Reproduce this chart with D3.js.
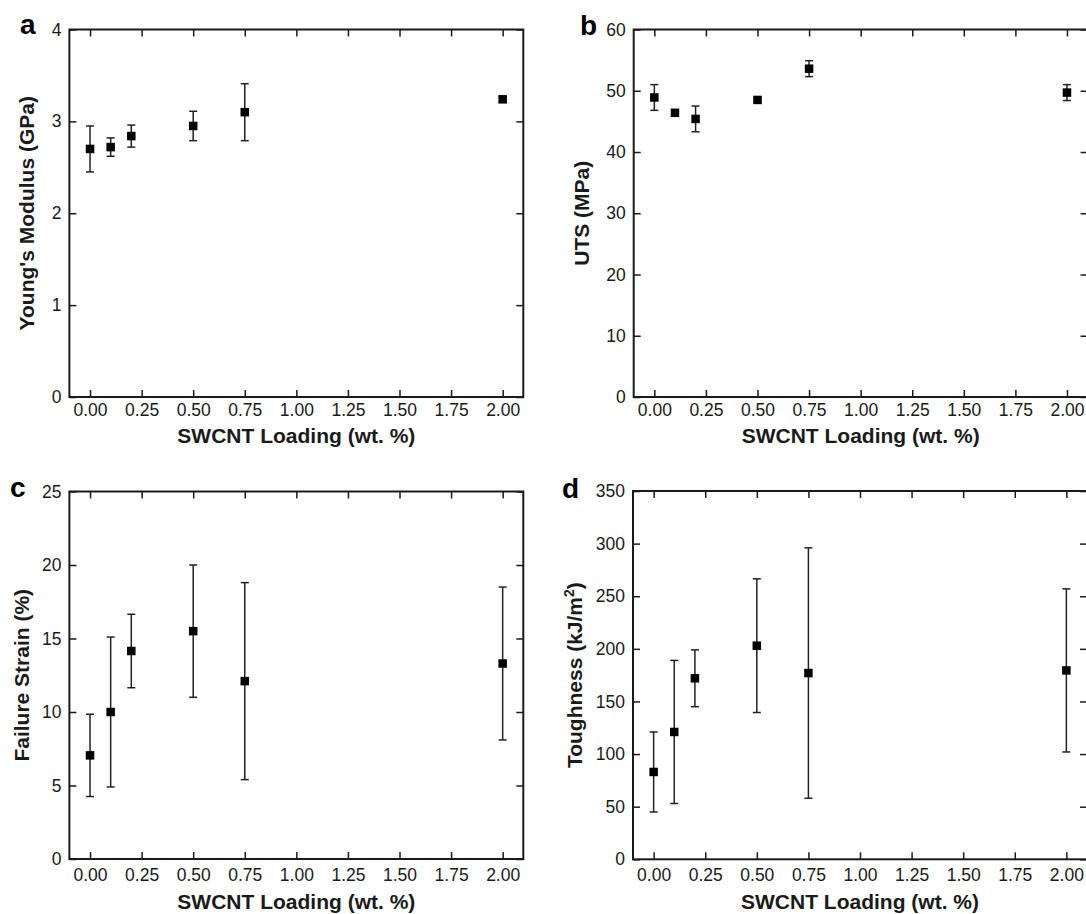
<!DOCTYPE html>
<html>
<head>
<meta charset="utf-8">
<script src="https://cdn.jsdelivr.net/npm/d3@7"></script>
<style>
  html, body { margin: 0; padding: 0; background: #fff; }
  svg { display: block; font-family: "Liberation Sans", Arial, sans-serif; }
</style>
</head>
<body>
<svg id="fig" width="1086" height="914"></svg>
<script>
// SWCNT loading (wt. %) for every sample set
const loading = [0, 0.1, 0.2, 0.5, 0.75, 2.0];
const xTicks = [0, 0.25, 0.5, 0.75, 1.0, 1.25, 1.5, 1.75, 2.0];

// (a) Young's modulus, GPa
const modulus    = [2.70, 2.72, 2.84, 2.95, 3.10, 3.24];
const modulusErr = [0.25, 0.10, 0.12, 0.16, 0.31, 0.03];
const modulusTicks = [0, 1, 2, 3, 4];

// (b) ultimate tensile strength, MPa
const uts    = [48.9, 46.4, 45.4, 48.5, 53.6, 49.7];
const utsErr = [2.1, 0.5, 2.1, 0.4, 1.3, 1.3];
const utsTicks = [0, 10, 20, 30, 40, 50, 60];

// (c) failure strain, %
const strain    = [7.05, 10.0, 14.15, 15.5, 12.1, 13.3];
const strainErr = [2.8, 5.1, 2.5, 4.5, 6.7, 5.2];
const strainTicks = [0, 5, 10, 15, 20, 25];

// (d) toughness, kJ/m^2
const toughness    = [83, 121, 172, 203, 177, 179.5];
const toughnessErr = [38, 68, 27, 63.5, 119, 77.5];
const toughnessTicks = [0, 50, 100, 150, 200, 250, 300, 350];

const panels = [
  { letter: "a", values: modulus, errors: modulusErr, yTicks: modulusTicks,
    title: ["Young's Modulus (GPa)"],
    box: { left: 69.4, right: 523.3, top: 29.5, bottom: 397 },
    letterPos: [20, 34], yTitleX: 34, xLabelPad: 7, xTitleDy: 46 },
  { letter: "b", values: uts, errors: utsErr, yTicks: utsTicks,
    title: ["UTS (MPa)"],
    box: { left: 633.7, right: 1087.6, top: 29.5, bottom: 397 },
    letterPos: [580, 35], yTitleX: 589, xLabelPad: 7, xTitleDy: 46 },
  { letter: "c", values: strain, errors: strainErr, yTicks: strainTicks,
    title: ["Failure Strain (%)"],
    box: { left: 69.4, right: 523.3, top: 491.5, bottom: 859 },
    letterPos: [10, 497], yTitleX: 29, xLabelPad: 10, xTitleDy: 49.5 },
  { letter: "d", values: toughness, errors: toughnessErr, yTicks: toughnessTicks,
    title: ["Toughness (kJ/m", "2", ")"],
    box: { left: 633, right: 1087, top: 491, bottom: 859.3 },
    letterPos: [562, 498], yTitleX: 582, xLabelPad: 9, xTitleDy: 49.2 }
];

const svg = d3.select("#fig");
const INK = "#1a1a1a";
const TICK = 7;

panels.forEach(p => {
  const b = p.box;
  const x = d3.scaleLinear().domain([-0.1, 2.1]).range([b.left, b.right]);
  const yMax = p.yTicks[p.yTicks.length - 1];
  const y = d3.scaleLinear().domain([0, yMax]).range([b.bottom, b.top]);

  const g = svg.append("g");

  // inward ticks on all four sides, labels only on bottom and left
  const bottomAxis = g.append("g").attr("transform", `translate(0,${b.bottom})`)
    .call(d3.axisBottom(x).tickValues(xTicks).tickSize(-TICK).tickSizeOuter(0)
      .tickPadding(p.xLabelPad).tickFormat(d3.format(".2f")));
  const topAxis = g.append("g").attr("transform", `translate(0,${b.top})`)
    .call(d3.axisTop(x).tickValues(xTicks).tickSize(-TICK).tickSizeOuter(0).tickFormat(""));
  const leftAxis = g.append("g").attr("transform", `translate(${b.left},0)`)
    .call(d3.axisLeft(y).tickValues(p.yTicks).tickSize(-TICK).tickSizeOuter(0)
      .tickPadding(8).tickFormat(d3.format("d")));
  const rightAxis = g.append("g").attr("transform", `translate(${b.right},0)`)
    .call(d3.axisRight(y).tickValues(p.yTicks).tickSize(-TICK).tickSizeOuter(0).tickFormat(""));

  [bottomAxis, topAxis, leftAxis, rightAxis].forEach(a => {
    a.select(".domain").remove();
    a.selectAll(".tick line").attr("stroke", INK).attr("stroke-width", 1.5);
    a.selectAll(".tick text").attr("fill", INK)
      .style("font-size", "17.5px").style("font-family", "'Liberation Sans', Arial, sans-serif");
  });

  // plot frame
  g.append("rect")
    .attr("x", b.left).attr("y", b.top)
    .attr("width", b.right - b.left).attr("height", b.bottom - b.top)
    .attr("fill", "none").attr("stroke", INK).attr("stroke-width", 2);

  // error bars
  const CAP = 4;
  const bars = g.append("g").attr("stroke", "#222").attr("stroke-width", 1.5).attr("fill", "none");
  loading.forEach((lx, i) => {
    const cx = x(lx);
    const hi = y(p.values[i] + p.errors[i]);
    const lo = y(p.values[i] - p.errors[i]);
    bars.append("line").attr("x1", cx).attr("x2", cx).attr("y1", hi).attr("y2", lo);
    bars.append("line").attr("x1", cx - CAP).attr("x2", cx + CAP).attr("y1", hi).attr("y2", hi);
    bars.append("line").attr("x1", cx - CAP).attr("x2", cx + CAP).attr("y1", lo).attr("y2", lo);
  });

  // square markers
  const S = 8.5;
  g.append("g").selectAll("rect").data(loading).join("rect")
    .attr("x", d => x(d) - S / 2)
    .attr("y", (d, i) => y(p.values[i]) - S / 2)
    .attr("width", S).attr("height", S)
    .attr("fill", "#000");

  // x axis title
  g.append("text")
    .attr("x", (b.left + b.right) / 2).attr("y", b.bottom + p.xTitleDy)
    .attr("text-anchor", "middle")
    .style("font-size", "21px").style("font-weight", "bold").attr("fill", INK)
    .text("SWCNT Loading (wt. %)");

  // y axis title
  const yt = g.append("text")
    .attr("transform", `translate(${p.yTitleX},${(b.top + b.bottom) / 2}) rotate(-90)`)
    .attr("text-anchor", "middle")
    .style("font-size", "21px").style("font-weight", "bold").attr("fill", INK);
  if (p.title.length === 1) {
    yt.text(p.title[0]);
  } else {
    yt.append("tspan").text(p.title[0]);
    yt.append("tspan").attr("dy", -8).style("font-size", "14px").text(p.title[1]);
    yt.append("tspan").attr("dy", 8).text(p.title[2]);
  }

  // panel letter
  g.append("text")
    .attr("x", p.letterPos[0]).attr("y", p.letterPos[1])
    .style("font-size", "28px").style("font-weight", "bold").attr("fill", "#000")
    .text(p.letter);
});
</script>
</body>
</html>
